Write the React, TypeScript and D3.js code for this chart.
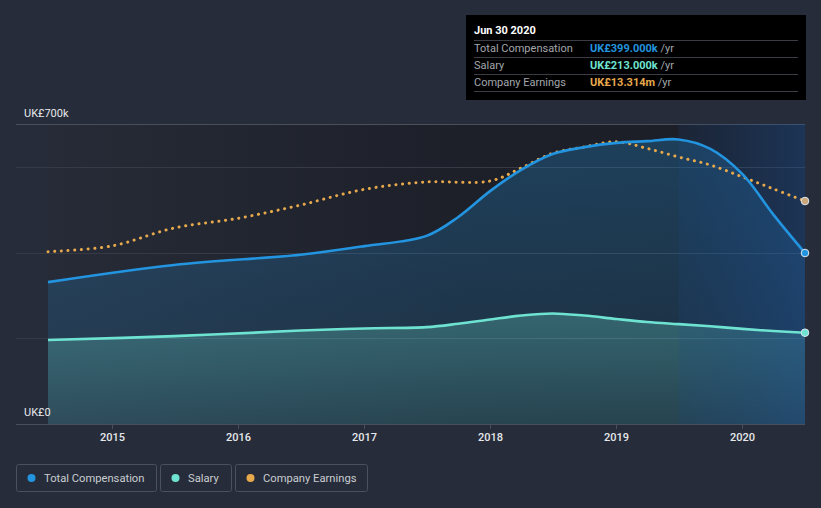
import * as d3 from "d3";
import { useEffect, useRef } from "react";

// dates of the readings (quarter ends)
const dates = [
  "2014-06-30", "2015-06-30", "2016-06-30", "2017-01-01", "2017-06-30", "2017-09-30",
  "2018-01-01", "2018-03-31", "2018-06-30", "2018-09-30", "2019-01-01", "2019-03-31",
  "2019-06-30", "2019-09-30", "2020-01-01", "2020-03-31", "2020-06-30"
];
// total compensation, UK£ thousands
const totalComp = [331, 371, 395, 415, 439, 483, 544, 593, 630, 646, 656, 660, 664, 642, 583, 488, 399];
// salary, UK£ thousands
const salary = [196, 205, 218, 223, 226, 234, 244, 253, 258, 253, 245, 238, 233, 228, 222, 217, 213];

const earnDates = [
  "2014-06-30", "2015-01-01", "2015-06-30", "2016-01-01", "2016-06-30", "2017-01-01",
  "2017-06-30", "2018-01-01", "2018-03-31", "2018-06-30", "2018-09-30", "2019-01-01",
  "2019-03-31", "2019-06-30", "2019-09-30", "2020-01-01", "2020-03-31", "2020-06-30"
];
// company earnings, UK£ millions
const earnings = [10.29, 10.63, 11.7, 12.28, 13.07, 14.01, 14.45, 14.51, 15.28, 16.16, 16.54, 16.85, 16.45, 15.94, 15.46, 14.75, 14.03, 13.31];

const yearTicks = ["2015", "2016", "2017", "2018", "2019", "2020"];
const legendItems = [
  { label: "Total Compensation", color: "#2394df" },
  { label: "Salary", color: "#6fe3d1" },
  { label: "Company Earnings", color: "#e8a94c" }
];
const tooltipRows = [
  { label: "Total Compensation", value: "UK£399.000k", color: "#2394df" },
  { label: "Salary", value: "UK£213.000k", color: "#6fe3d1" },
  { label: "Company Earnings", value: "UK£13.314m", color: "#e8a94c" }
];

const W = 821;
const H = 508;
const FONT = "Roboto, 'Noto Sans', sans-serif";

export default function App() {
  const ref = useRef<SVGSVGElement | null>(null);

  useEffect(() => {
    document.body.style.margin = "0";
    document.body.style.background = "#262c39";
    if (!ref.current) return;
    const svg = d3.select(ref.current);
    svg.selectAll("*").remove();

    const parse = d3.timeParse("%Y-%m-%d");
    const x = d3.scaleTime()
      .domain([parse("2014-06-30")!, parse("2020-06-30")!])
      .range([48, 805]);
    const y = d3.scaleLinear().domain([0, 700]).range([424, 124]);
    const yE = d3.scaleLinear().domain([0, 17.91]).range([424, 124]);

    const defs = svg.append("defs");
    const bg = defs.append("linearGradient").attr("id", "plotbg");
    bg.append("stop").attr("offset", "0%").attr("stop-color", "#262b37");
    bg.append("stop").attr("offset", "55%").attr("stop-color", "#1d2029");
    bg.append("stop").attr("offset", "100%").attr("stop-color", "#1b1e26");

    const band = defs.append("linearGradient").attr("id", "band");
    band.append("stop").attr("offset", "0%").attr("stop-color", "#1a4a8a").attr("stop-opacity", 0.15);
    band.append("stop").attr("offset", "100%").attr("stop-color", "#1f56a0").attr("stop-opacity", 0.4);

    const compG = defs.append("linearGradient").attr("id", "compfill")
      .attr("x1", 0).attr("y1", 0).attr("x2", 0).attr("y2", 1);
    compG.append("stop").attr("offset", "0%").attr("stop-color", "#2394df").attr("stop-opacity", 0.28);
    compG.append("stop").attr("offset", "100%").attr("stop-color", "#2394df").attr("stop-opacity", 0.12);

    const salG = defs.append("linearGradient").attr("id", "salfill")
      .attr("x1", 0).attr("y1", 0).attr("x2", 0).attr("y2", 1);
    salG.append("stop").attr("offset", "0%").attr("stop-color", "#6fe3d1").attr("stop-opacity", 0.28);
    salG.append("stop").attr("offset", "100%").attr("stop-color", "#6fe3d1").attr("stop-opacity", 0.12);

    svg.append("rect").attr("x", 48).attr("y", 124).attr("width", 757).attr("height", 300)
      .attr("fill", "url(#plotbg)");

    // gridlines
    [0, 200, 400, 600, 700].forEach((v) => {
      svg.append("line")
        .attr("x1", 16).attr("x2", 805)
        .attr("y1", Math.round(y(v)) + 0.5).attr("y2", Math.round(y(v)) + 0.5)
        .attr("stroke", v === 0 || v === 700 ? "#4a4f5b" : "#353a46")
        .attr("stroke-width", 1);
    });

    const compPts = dates.map((d, i) => [x(parse(d)!), y(totalComp[i])] as [number, number]);
    const salPts = dates.map((d, i) => [x(parse(d)!), y(salary[i])] as [number, number]);
    const earnPts = earnDates.map((d, i) => [x(parse(d)!), yE(earnings[i])] as [number, number]);

    const curve = d3.curveCatmullRom.alpha(0.5);
    const area = d3.area<[number, number]>().x((d) => d[0]).y0(y(0)).y1((d) => d[1]).curve(curve);
    const line = d3.line<[number, number]>().curve(curve);

    svg.append("path").attr("d", area(compPts)).attr("fill", "url(#compfill)");
    svg.append("path").attr("d", area(salPts)).attr("fill", "url(#salfill)");

    // highlight last year
    const bx = x(parse("2019-06-30")!);
    svg.append("rect").attr("x", bx).attr("y", 124).attr("width", 805 - bx).attr("height", 300)
      .attr("fill", "url(#band)");

    svg.append("path").attr("d", line(earnPts)).attr("fill", "none")
      .attr("stroke", "#e8a94c").attr("stroke-width", 3)
      .attr("stroke-linecap", "round").attr("stroke-dasharray", "0.1 6.6");
    svg.append("path").attr("d", line(compPts)).attr("fill", "none")
      .attr("stroke", "#2394df").attr("stroke-width", 2.6);
    svg.append("path").attr("d", line(salPts)).attr("fill", "none")
      .attr("stroke", "#6fe3d1").attr("stroke-width", 2.6);

    // end markers
    [
      { p: earnPts[earnPts.length - 1], c: "#c9a77a" },
      { p: compPts[compPts.length - 1], c: "#2394df" },
      { p: salPts[salPts.length - 1], c: "#6fe3d1" }
    ].forEach((m) => {
      svg.append("circle").attr("cx", m.p[0]).attr("cy", m.p[1]).attr("r", 3.8)
        .attr("fill", m.c).attr("stroke", "#dfe6ef").attr("stroke-width", 1);
    });

    // x axis
    yearTicks.forEach((t) => {
      const tx = Math.round(x(parse(`${t}-01-01`)!)) + 0.5;
      svg.append("line").attr("x1", tx).attr("x2", tx).attr("y1", 424).attr("y2", 429)
        .attr("stroke", "#4a4f5b");
      svg.append("text").attr("x", tx).attr("y", 441).attr("text-anchor", "middle")
        .attr("font-family", FONT).attr("font-size", 11).attr("font-weight", 500)
        .attr("fill", "#e6e8ec").text(t);
    });

    // y labels
    svg.append("text").attr("x", 24).attr("y", 117).attr("font-family", FONT)
      .attr("font-size", 11).attr("fill", "#e6e8ec").text("UK£700k");
    svg.append("text").attr("x", 24).attr("y", 416).attr("font-family", FONT)
      .attr("font-size", 11).attr("fill", "#e6e8ec").text("UK£0");

    // tooltip
    const tt = svg.append("g");
    tt.append("rect").attr("x", 466).attr("y", 15).attr("width", 340).attr("height", 85).attr("fill", "#000");
    tt.append("text").attr("x", 474).attr("y", 34).attr("font-family", FONT).attr("font-size", 11)
      .attr("font-weight", 700).attr("fill", "#fff").text("Jun 30 2020");
    [40, 57, 74, 91].forEach((ly) => {
      tt.append("line").attr("x1", 474).attr("x2", 798).attr("y1", ly + 0.5).attr("y2", ly + 0.5)
        .attr("stroke", "#3a3d44");
    });
    tooltipRows.forEach((r, i) => {
      const ty = 52 + i * 17;
      tt.append("text").attr("x", 474).attr("y", ty).attr("font-family", FONT).attr("font-size", 11)
        .attr("fill", "#a3a7ad").text(r.label);
      const t = tt.append("text").attr("x", 590).attr("y", ty).attr("font-family", FONT).attr("font-size", 11);
      t.append("tspan").attr("fill", r.color).attr("font-weight", 700).text(r.value);
      t.append("tspan").attr("fill", "#a3a7ad").text(" /yr");
    });

    // legend
    let lx = 16;
    const widths = [140, 71, 132];
    legendItems.forEach((it, i) => {
      const g = svg.append("g");
      g.append("rect").attr("x", lx + 0.5).attr("y", 464.5).attr("width", widths[i]).attr("height", 27)
        .attr("rx", 2).attr("fill", "none").attr("stroke", "#4b505b");
      g.append("circle").attr("cx", lx + 15.5).attr("cy", 478).attr("r", 4).attr("fill", it.color);
      g.append("text").attr("x", lx + 28).attr("y", 482).attr("font-family", FONT).attr("font-size", 11.2)
        .attr("fill", "#c9ccd1").text(it.label);
      lx += widths[i] + 4;
    });
  }, []);

  return <svg ref={ref} width={W} height={H} style={{ display: "block", background: "#262c39" }} />;
}
